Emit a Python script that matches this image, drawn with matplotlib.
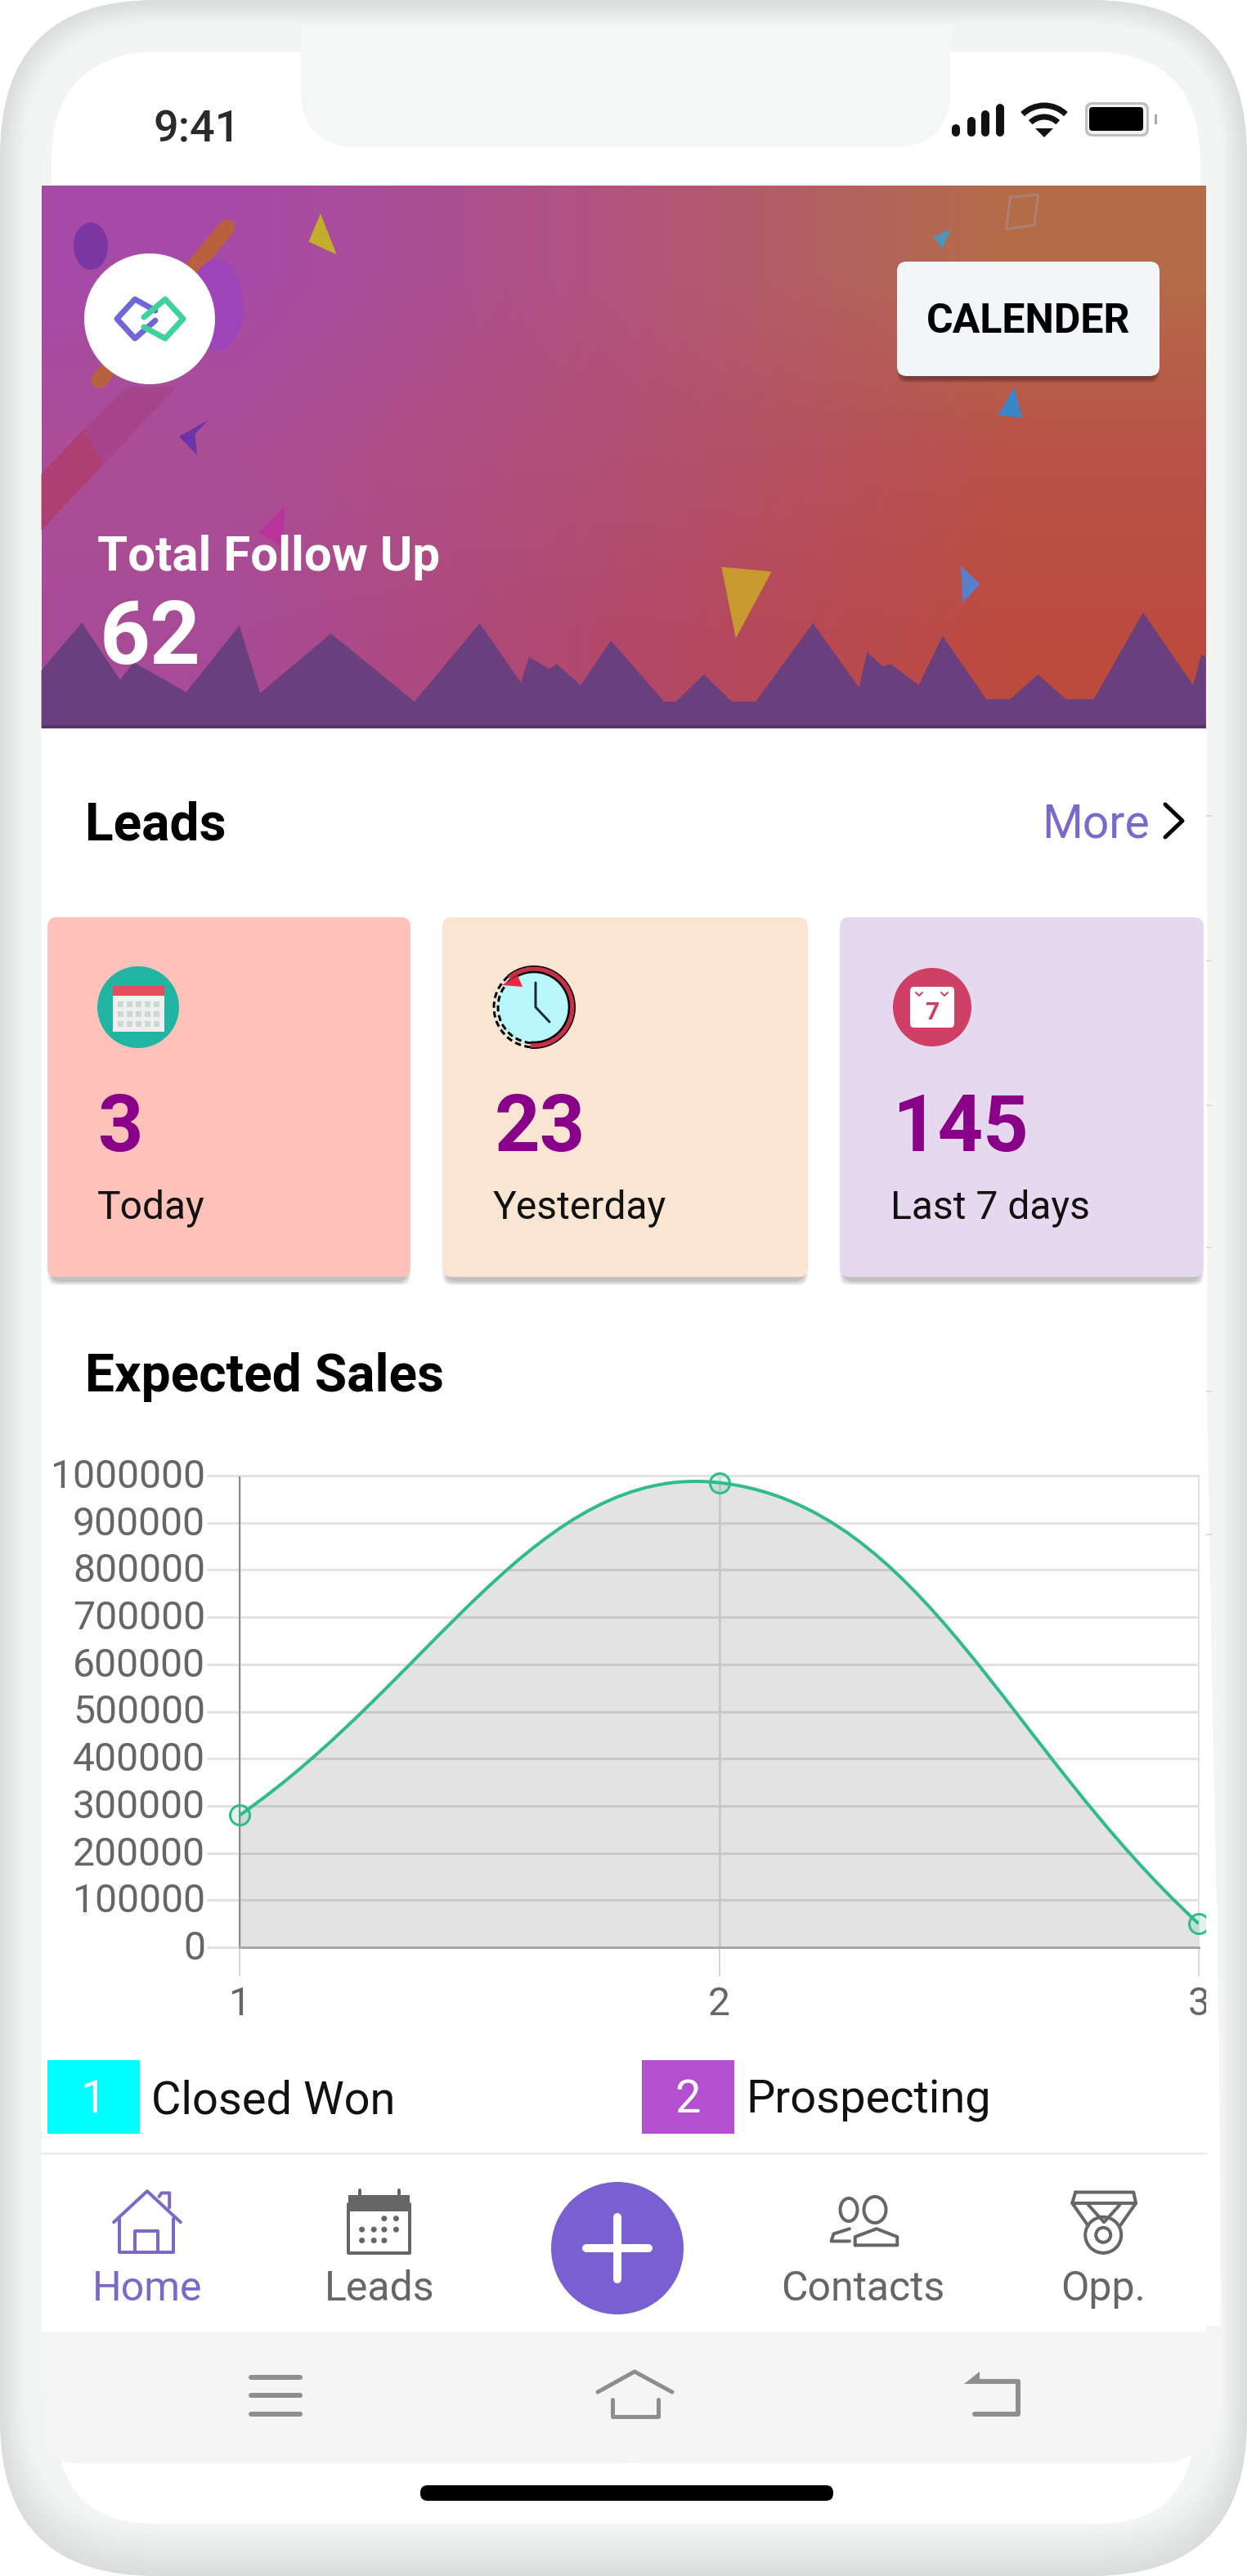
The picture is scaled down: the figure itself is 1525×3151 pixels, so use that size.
import numpy as np
import matplotlib
matplotlib.use('Agg')
import matplotlib.pyplot as plt
from matplotlib.patches import FancyBboxPatch, Polygon, Circle, Ellipse, Rectangle, Arc, PathPatch
from matplotlib.path import Path
from matplotlib.transforms import ScaledTranslation

# Datos del grafico
x_vals = [1, 2, 3]
y_vals = [280000, 985000, 50000]
y_ticks = [0, 100000, 200000, 300000, 400000, 500000, 600000, 700000, 800000, 900000, 1000000]
legend_names = ['Closed Won', 'Prospecting']
legend_nums = ['1', '2']
card_nums = ['3', '23', '145']
card_names = ['Today', 'Yesterday', 'Last 7 days']
nav_names = ['Home', 'Leads', 'Contacts', 'Opp.']

W, H = 1525, 3151
PURPLE = '#7b68c8'
GREY = '#666666'
plt.rcParams['font.family'] = ['Roboto', 'DejaVu Sans']


def pt(px):
    return px * 0.72


# pasar de coordenadas de recorte a pixeles
def crop(pts, y0, ky):
    return [(x / 1.028, y0 + y / ky) for x, y in pts]


def c1(pts):
    return crop(pts, 0, 1.742)


def c3(pts):
    return crop(pts, 2450, 2.237)


def rrect(ax, x0, y0, x1, y1, r, color, **kw):
    p = FancyBboxPatch((x0 + r, y0 + r), x1 - x0 - 2 * r, y1 - y0 - 2 * r,
                       boxstyle=f'round,pad={r},rounding_size={r}', fc=color, ec='none', **kw)
    ax.add_patch(p)
    return p


def poly(ax, pts, color, **kw):
    ax.add_patch(Polygon(pts, closed=True, fc=color, ec='none', **kw))


def line(ax, pts, color, px, **kw):
    xs = [p[0] for p in pts]
    ys = [p[1] for p in pts]
    ax.plot(xs, ys, color=color, lw=pt(px), solid_capstyle='round', solid_joinstyle='round', **kw)


def label(ax, x, y, s, size, color='black', weight='normal', ha='left', va='baseline', **kw):
    ax.text(x, y, s, fontsize=pt(size), color=color, weight=weight, ha=ha, va=va, **kw)


fig = plt.figure(figsize=(W / 100, H / 100), dpi=100, facecolor='white')
bg = fig.add_axes([0, 0, 1, 1], zorder=0)
bg.set_xlim(0, W)
bg.set_ylim(H, 0)
bg.axis('off')

# Marco del telefono, capas para simular el degradado
c_out = np.array([0xdb, 0xdc, 0xdc])
c_in = np.array([0xf3, 0xf4, 0xf4])
for d in range(0, 32, 2):
    col = (c_out + (c_in - c_out) * (d / 30)) / 255
    rrect(bg, d, d, W - d, H - 2 * d, 190 - d, tuple(col))

# pantalla
rrect(bg, 63, 63, 1468, 700, 135, 'white')
poly(bg, [(51, 227), (1476, 227), (1476, 1700), (1483, 2100), (1491, 2500), (1493, 2845),
          (1475, 2845), (1475, 2860), (51, 2860)], 'white')
rrect(bg, 70, 2800, 1460, 3087, 120, 'white')
# muesca
rrect(bg, 368, 30, 1162, 180, 70, '#f5f6f6')
bg.add_patch(Rectangle((368, 30), 794, 70, fc='#f5f6f6', ec='none'))

# Barra de estado
label(bg, 187, 173, '9:41', 54, color='#2a2a2a', weight='medium')
for bx, by in zip([1169, 1188, 1205, 1223], [157, 148, 140, 132]):
    line(bg, [(bx, by), (bx, 162)], '#111111', 10)
bg.add_patch(Arc((1277, 167), 76, 76, theta1=226, theta2=314, color='#111111', lw=pt(7)))
bg.add_patch(Arc((1277, 167), 48, 48, theta1=226, theta2=314, color='#111111', lw=pt(7)))
poly(bg, [(1266, 157), (1288, 157), (1277, 168)], '#111111')
rrect(bg, 1327, 125, 1405, 167, 9, '#bfbfbf')
rrect(bg, 1330, 128, 1402, 164, 7, '#f2f2f2')
rrect(bg, 1332, 131, 1398, 160, 4, 'black')
bg.add_patch(Rectangle((1412, 140), 3, 12, fc='#aaaaaa', ec='none'))

# Cabecera con degradado
grad = np.array([[[166, 74, 168], [178, 84, 125], [180, 108, 72]],
                 [[172, 78, 150], [178, 80, 115], [185, 82, 72]],
                 [[168, 75, 150], [178, 72, 105], [188, 75, 62]]], dtype=np.uint8)
bg.imshow(grad, extent=(51, 1475, 891, 227), interpolation='bilinear', aspect='auto', zorder=1)
bg.set_xlim(0, W)
bg.set_ylim(H, 0)

z = {'zorder': 2}
poly(bg, c1([(160, 825), (222, 825), (130, 990), (105, 915)]), '#a6458c', **z)
poly(bg, c1([(105, 915), (130, 990), (52, 1130), (52, 1010)]), '#ad3f72', **z)
line(bg, c1([(285, 485), (125, 810)]), '#b9603f', 20, **z)
bg.add_patch(Ellipse((111, 301), 42, 58, fc='#7c36a2', ec='none', **z))
bg.add_patch(Ellipse((265, 373), 66, 112, fc='#9d45b8', ec='none', **z))
poly(bg, c1([(403, 455), (388, 515), (423, 542)]), '#c2ae2a', **z)
poly(bg, c1([(262, 895), (225, 930), (248, 970), (245, 925)]), '#6a35a8', **z)
poly(bg, c1([(358, 1078), (325, 1135), (355, 1165)]), '#b9349a', **z)
poly(bg, c1([(907, 1208), (970, 1218), (925, 1360)]), '#c99a2e', **z)
poly(bg, c1([(1208, 1205), (1232, 1245), (1210, 1285)]), '#5a7fc8', **z)
poly(bg, c1([(1275, 825), (1255, 885), (1285, 890)]), '#3a86c8', **z)
poly(bg, c1([(1195, 488), (1173, 505), (1185, 530)]), '#4e96b8', **z)
line(bg, c1([(1270, 420), (1305, 415), (1300, 480), (1265, 488), (1270, 420)]), '#a98272', 3, **z)

mountains = [(52, 1428), (103, 1327), (151, 1449), (168, 1411), (234, 1475), (301, 1333), (327, 1477), (416, 1350),
             (521, 1495), (603, 1328), (655, 1455), (665, 1400), (690, 1425), (700, 1415), (730, 1460),
             (768, 1365), (835, 1495), (850, 1495), (885, 1437), (920, 1495), (950, 1495), (1022, 1328),
             (1080, 1465), (1090, 1390), (1110, 1420), (1120, 1415), (1155, 1460), (1185, 1355), (1240, 1490),
             (1270, 1490), (1305, 1437), (1340, 1490), (1375, 1490), (1437, 1305), (1500, 1460), (1510, 1395),
             (1516, 1400), (1516, 1552), (52, 1552)]
poly(bg, c1(mountains), '#69407d', **z)
bg.add_patch(Rectangle((51, 887), 1424, 4, fc='#5a3568', ec='none', **z))

# Logo
bg.add_patch(Circle((183, 390), 80, fc='white', ec='none', zorder=3))
line(bg, [(190, 380), (165, 366), (143, 390), (165, 414), (190, 392)], '#6f66d8', 7, zorder=4)
line(bg, [(176, 400), (202, 414), (224, 390), (202, 366), (176, 388)], '#3fd39a', 7, zorder=4)

# Boton
for i in range(5):
    rrect(bg, 1097 + i, 326 + i, 1418 - i, 468 - i, 12, '#4a2020', alpha=0.12, zorder=3)
rrect(bg, 1097, 320, 1418, 460, 12, '#f3f6f9', zorder=4)
label(bg, 1258, 407, 'CALENDER', 50, weight='bold', ha='center', zorder=5)

label(bg, 119, 698, 'Total Follow Up', 60, color='white', weight='bold', zorder=5)
label(bg, 122, 812, '62', 108, color='white', weight='bold', zorder=5)

# Seccion Leads
label(bg, 104, 1027, 'Leads', 64, weight='bold')
label(bg, 1274, 1024, 'More', 57, color=PURPLE)
line(bg, [(1425, 984), (1446, 1004), (1425, 1024)], 'black', 5)
for yy in [998, 1175, 1352, 1526, 1702, 1877]:
    bg.plot([1476, 1481], [yy, yy], color='#dddddd', lw=pt(2))

card_x = [(58, 502), (541, 988), (1027, 1472)]
card_cols = ['#ffc2bb', '#fae4d2', '#e6d9ef']
num_x = [120, 605, 1091]
name_x = [119, 603, 1089]
for (x0, x1), col, n, nx, s, sx in zip(card_x, card_cols, card_nums, num_x, card_names, name_x):
    for i in range(6):
        rrect(bg, x0 + i, 1126, x1 - i, 1572 - i, 12, '#555555', alpha=0.07)
    rrect(bg, x0, 1122, x1, 1562, 12, col)
    label(bg, nx, 1408, n, 97, color='#870087', weight='bold')
    label(bg, sx, 1490, s, 48, color='#111111')

# iconos de las tarjetas
bg.add_patch(Circle((169, 1232), 50, fc='#1fb5a0', ec='none'))
bg.add_patch(Rectangle((138, 1218), 63, 44, fc='#eef0ee', ec='none'))
bg.add_patch(Rectangle((138, 1206), 63, 12, fc='#e74c5c', ec='none'))
for i in range(5):
    for j in range(3):
        bg.add_patch(Rectangle((144 + i * 11, 1225 + j * 12), 7, 7, fc='#cfd6d6', ec='none'))

# reloj
bg.add_patch(Circle((653, 1232), 46, fc='#b8f7fb', ec='none'))
bg.add_patch(Arc((653, 1232), 99, 99, theta1=-130, theta2=95, color='black', lw=pt(3)))
bg.add_patch(Arc((653, 1232), 93, 93, theta1=-130, theta2=95, color='#c8304a', lw=pt(6)))
bg.add_patch(Arc((653, 1232), 86, 86, theta1=-130, theta2=95, color='black', lw=pt(2.5)))
bg.add_patch(Arc((653, 1232), 98, 98, theta1=95, theta2=230, color='black', lw=pt(3), ls=(0, (2.5, 1.5))))
bg.add_patch(Arc((653, 1232), 88, 88, theta1=95, theta2=230, color='black', lw=pt(3), ls=(0, (2.5, 1.5))))
poly(bg, [(614, 1205), (633, 1193), (639, 1207)], '#e8283f')
line(bg, [(655, 1202), (655, 1232), (672, 1250)], '#1a2a33', 3)

# calendario con el 7
bg.add_patch(Circle((1140, 1232), 48, fc='#cf3f63', ec='none'))
rrect(bg, 1113, 1207, 1167, 1257, 5, 'white')
line(bg, [(1120, 1214), (1124, 1218), (1128, 1214)], '#cf3f63', 2)
line(bg, [(1151, 1214), (1155, 1218), (1159, 1214)], '#cf3f63', 2)
label(bg, 1140, 1247, '7', 30, color='#cf3f63', weight='bold', ha='center')

# Seccion Expected Sales
label(bg, 104, 1702, 'Expected Sales', 64, weight='bold')

# Leyenda
leg_x = [(58, 171), (785, 898)]
leg_cols = ['#00ffff', '#b44fd0']
leg_tx = [185, 912]
for (x0, x1), col, num, name, tx in zip(leg_x, leg_cols, legend_nums, legend_names, leg_tx):
    bg.add_patch(Rectangle((x0, 2520), x1 - x0, 90, fc=col, ec='none'))
    label(bg, (x0 + x1) / 2, 2584, num, 56, color='white', ha='center')
    label(bg, tx, 2585, name, 56, color='#111111')
bg.plot([51, 1475], [2634, 2634], color='#eeeeee', lw=pt(3))

# Barra de navegacion
nav_x = [180, 464, 1055, 1349]
nav_cols = [PURPLE, GREY, GREY, GREY]
for s, nx, col in zip(nav_names, nav_x, nav_cols):
    label(bg, nx, 2814, s, 50, color=col, ha='center')

# casa
for seg in ([(143, 600), (185, 515), (227, 600)], [(200, 530), (203, 520), (213, 520), (213, 560)],
            [(150, 590), (150, 683), (218, 683), (218, 590)], [(170, 683), (170, 625), (198, 625), (198, 683)]):
    line(bg, c3(seg), PURPLE, 4)
# calendario
line(bg, c3([(438, 550), (438, 685), (515, 685), (515, 550)]), GREY, 4)
poly(bg, c3([(438, 525), (515, 525), (515, 570), (438, 570)]), GREY)
line(bg, c3([(452, 512), (452, 530)]), GREY, 4)
line(bg, c3([(502, 512), (502, 530)]), GREY, 4)
for cx, cy in [(483, 590), (498, 590), (455, 620), (470, 620), (483, 620), (498, 620), (455, 650), (470, 650), (483, 650)]:
    pts = c3([(cx, cy)])[0]
    bg.add_patch(Circle(pts, 3.5, fc=GREY, ec='none'))
# mas
bg.add_patch(Circle((755, 2750), 81, fc='#7860d2', ec='none'))
line(bg, [(717, 2750), (793, 2750)], 'white', 10)
line(bg, [(755, 2712), (755, 2788)], 'white', 10)
# contactos
bg.add_patch(Ellipse((1038, 2703), 21, 28, fc='none', ec=GREY, lw=pt(4)))
bg.add_patch(Ellipse((1070, 2703), 27, 32, fc='none', ec=GREY, lw=pt(4)))
line(bg, c3([(1075, 663), (1075, 640), (1102, 618), (1128, 640), (1128, 663), (1075, 663)]), GREY, 4)
line(bg, c3([(1068, 652), (1045, 652), (1048, 632), (1068, 618)]), GREY, 4)
# medalla
line(bg, c3([(1352, 518), (1425, 518), (1428, 548), (1408, 610)]), GREY, 4)
line(bg, c3([(1352, 518), (1348, 548), (1368, 610)]), GREY, 4)
line(bg, c3([(1348, 548), (1428, 548)]), GREY, 4)
line(bg, c3([(1368, 552), (1388, 600), (1408, 552)]), GREY, 4)
pts = c3([(1387, 635)])[0]
bg.add_patch(Circle(pts, 22, fc='none', ec=GREY, lw=pt(4)))
bg.add_patch(Circle(pts, 9, fc='none', ec=GREY, lw=pt(4)))

# Barra inferior de android
SOFT_BG = '#f5f5f5'
rrect(bg, 55, 2852, 800, 3013, 40, SOFT_BG)
rrect(bg, 700, 2852, 1494, 3013, 85, SOFT_BG)
bg.add_patch(Rectangle((51, 2852), 1443, 70, fc=SOFT_BG, ec='none'))
SOFT = '#8e8e8e'
for yy in [2908, 2930, 2953]:
    bg.plot([307, 367], [yy, yy], color=SOFT, lw=pt(6), solid_capstyle='round')
line(bg, [(731, 2926), (776, 2901), (822, 2926)], SOFT, 5)
line(bg, [(749, 2935), (749, 2956), (805, 2956), (805, 2935)], SOFT, 5)
line(bg, [(1190, 2913), (1245, 2913), (1245, 2953), (1192, 2953)], SOFT, 6)
poly(bg, [(1179, 2916), (1198, 2901), (1198, 2916)], SOFT)
rrect(bg, 514, 3040, 1019, 3059, 9, 'black')

# Grafico de ventas
x0, x1, y0, y1 = 293, 1466, 1805, 2382
ax = fig.add_axes([x0 / W, 1 - y1 / H, (x1 - x0) / W, (y1 - y0) / H], zorder=1)
ax.patch.set_alpha(0)
ax.set_xlim(1, 3)
ax.set_ylim(0, 1000000)
ax.set_yticks(y_ticks)
ax.set_yticklabels([str(v) for v in y_ticks])
ax.set_xticks(x_vals)
ax.set_xticklabels([str(v) for v in x_vals])
ax.grid(True, color='#e2e2e2', lw=pt(3))
ax.set_axisbelow(True)
ax.tick_params(axis='y', length=pt(40), width=pt(3), color='#e2e2e2', labelcolor=GREY, labelsize=pt(48), pad=pt(2))
ax.tick_params(axis='x', length=pt(35), width=pt(2), color='#d8d8d8', labelcolor=GREY, labelsize=pt(48), pad=pt(12))
# las etiquetas del eje y van unos pixeles por encima de la linea
up = ScaledTranslation(0, 3 / 100, fig.dpi_scale_trans)
for lbl in ax.get_yticklabels():
    lbl.set_transform(lbl.get_transform() + up)
for s in ['top', 'right']:
    ax.spines[s].set_color('#e2e2e2')
    ax.spines[s].set_linewidth(pt(2))
ax.spines['left'].set_color('#8a8a8a')
ax.spines['left'].set_linewidth(pt(2))
ax.spines['bottom'].set_color('#a8a8a8')
ax.spines['bottom'].set_linewidth(pt(3))
ax.xaxis.get_major_ticks()[0].tick1line.set_color('#8a8a8a')

# curva bezier a partir de los tres puntos, tension 0.4
sx = (x1 - x0) / (x_vals[-1] - x_vals[0])
sy = (y1 - y0) / y_ticks[-1]
px = np.array(x_vals) * sx
py = np.array(y_vals) * sy
verts = [(x_vals[0], y_vals[0])]
codes = [Path.MOVETO]
n = len(px)
ctrl_next = []
ctrl_prev = []
for i in range(n):
    a = max(i - 1, 0)
    b = min(i + 1, n - 1)
    d01 = np.hypot(px[i] - px[a], py[i] - py[a])
    d12 = np.hypot(px[b] - px[i], py[b] - py[i])
    fa = 0.4 * d01 / (d01 + d12)
    fb = 0.4 * d12 / (d01 + d12)
    ctrl_prev.append((px[i] - fa * (px[b] - px[a]), py[i] - fa * (py[b] - py[a])))
    ctrl_next.append((px[i] + fb * (px[b] - px[a]), py[i] + fb * (py[b] - py[a])))
for i in range(n - 1):
    verts += [(ctrl_next[i][0] / sx, ctrl_next[i][1] / sy), (ctrl_prev[i + 1][0] / sx, ctrl_prev[i + 1][1] / sy),
              (x_vals[i + 1], y_vals[i + 1])]
    codes += [Path.CURVE4] * 3
fill_verts = verts + [(x_vals[-1], 0), (x_vals[0], 0), verts[0]]
fill_codes = codes + [Path.LINETO, Path.LINETO, Path.CLOSEPOLY]
ax.add_patch(PathPatch(Path(fill_verts, fill_codes), fc='black', alpha=0.11, ec='none', zorder=2))
ax.add_patch(PathPatch(Path(verts, codes), fc='none', ec='#2fbb8c', lw=pt(4), zorder=3))
ax.plot(x_vals, y_vals, 'o', ms=pt(24), mfc=(0.18, 0.73, 0.55, 0.15), mec='#2fbb8c', mew=pt(3), clip_on=False, zorder=4)

# tapa el 3 y el punto recortados en el borde de la pantalla
top = fig.add_axes([0, 0, 1, 1], zorder=2)
top.set_xlim(0, W)
top.set_ylim(H, 0)
top.axis('off')
top.add_patch(Rectangle((1475, 2330), 14, 150, fc='white', ec='none'))

fig.savefig('out.png', dpi=100)
